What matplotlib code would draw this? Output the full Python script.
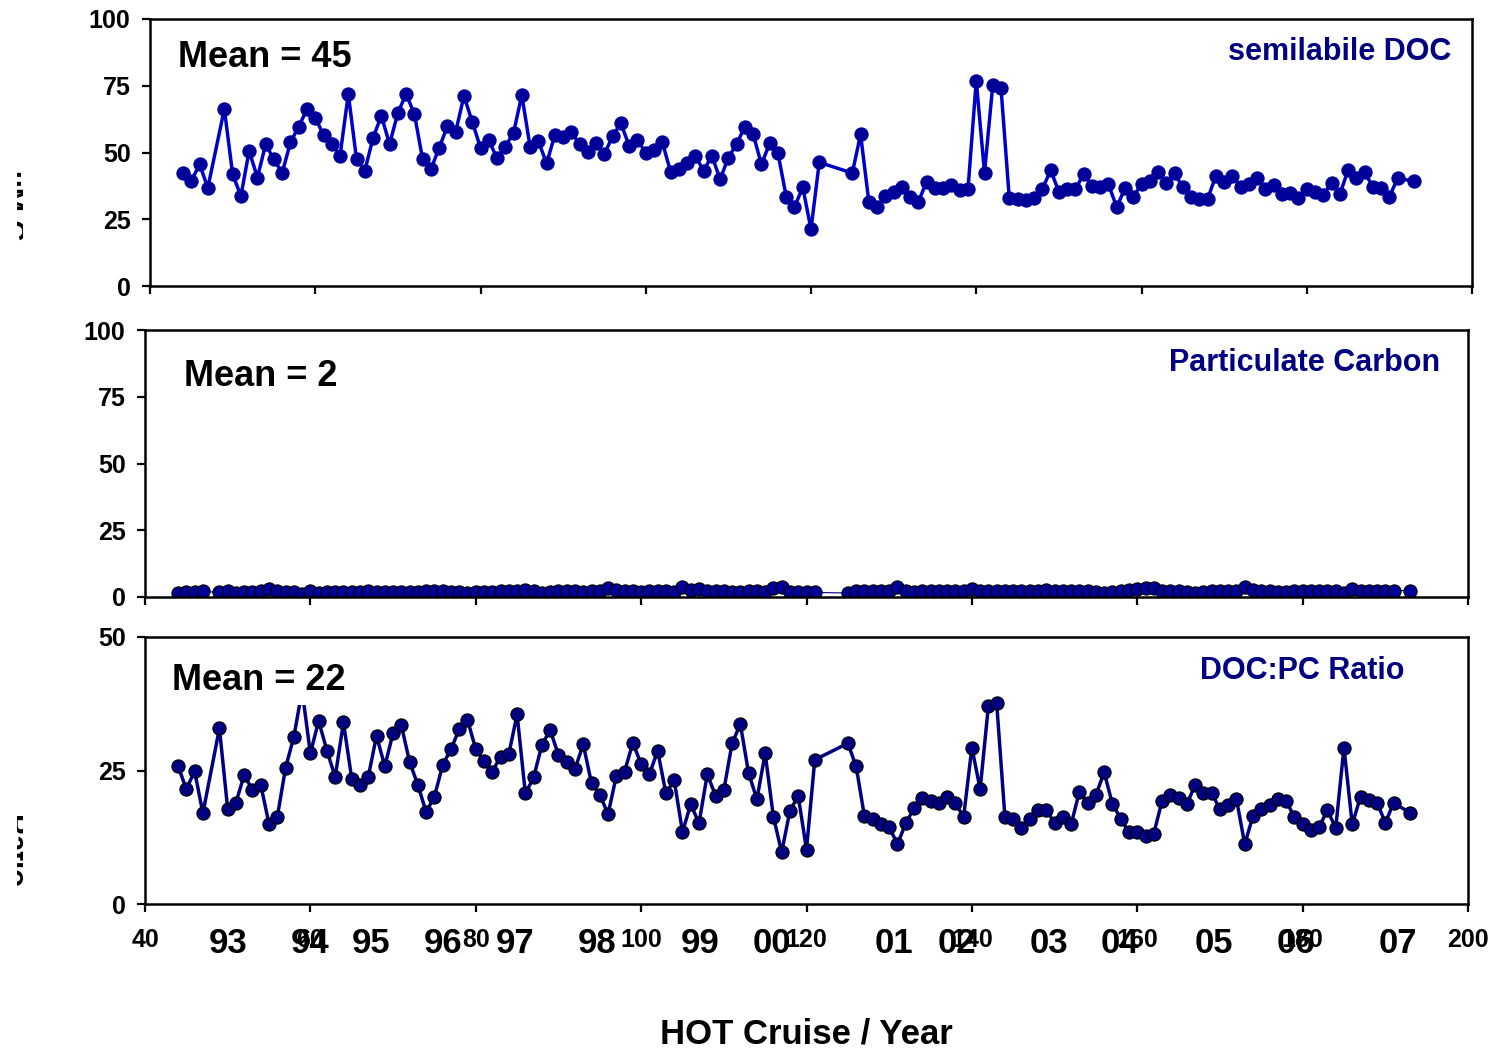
import matplotlib
matplotlib.use("Agg")
import matplotlib.pyplot as plt
from matplotlib.transforms import Bbox

plt.rcParams["font.family"] = ["Liberation Sans", "DejaVu Sans"]
plt.rcParams["font.weight"] = "bold"

# ---- data -------------------------------------------------------------
cruise = [44, 45, 46, 47, 49, 50, 51, 52, 53, 54, 55, 56, 57, 58, 59, 60, 61, 62, 63, 64,
          65, 66, 67, 68, 69, 70, 71, 72, 73, 74, 75, 76, 77, 78, 79, 80, 81, 82, 83, 84,
          85, 86, 87, 88, 89, 90, 91, 92, 93, 94, 95, 96, 97, 98, 99, 100, 101, 102, 103, 104,
          105, 106, 107, 108, 109, 110, 111, 112, 113, 114, 115, 116, 117, 118, 119, 120, 121,
          125, 126, 127, 128, 129, 130, 131, 132, 133, 134, 135, 136, 137, 138, 139, 140, 141,
          142, 143, 144, 145, 146, 147, 148, 149, 150, 151, 152, 153, 154, 155, 156, 157, 158,
          159, 160, 161, 162, 163, 164, 165, 166, 167, 168, 169, 170, 171, 172, 173, 174, 175,
          176, 177, 178, 179, 180, 181, 182, 183, 184, 185, 186, 187, 188, 189, 190, 191, 193]

semilabile_doc = [42.4, 39.3, 45.6, 36.8, 66.3, 41.9, 33.7, 50.6, 40.6, 53.1, 47.4, 42.4, 53.8,
                  59.7, 66.2, 63.0, 56.6, 53.2, 48.8, 71.9, 47.4, 43.2, 55.5, 63.8, 53.1, 64.9,
                  71.9, 64.4, 47.4, 43.7, 51.8, 59.9, 57.8, 71.2, 61.5, 51.8, 54.7, 47.8, 52.2,
                  57.4, 71.5, 52.2, 54.3, 45.9, 56.6, 55.9, 57.6, 53.1, 50.1, 53.4, 49.3, 56.3,
                  60.9, 52.4, 54.7, 49.9, 50.9, 54.0, 42.8, 43.7, 45.9, 48.8, 43.1, 48.8, 40.0,
                  48.1, 53.2, 59.7, 56.8, 45.6, 53.4, 49.7, 33.5, 29.5, 37.0, 21.3, 46.3,
                  42.3, 56.8, 31.6, 29.7, 33.8, 35.1, 37.2, 33.5, 31.6, 39.1, 36.8, 36.8, 37.8,
                  36.0, 36.2, 76.9, 42.4, 75.3, 74.0, 32.8, 32.5, 32.2, 33.1, 36.2, 43.4, 35.3,
                  36.2, 36.2, 41.9, 37.5, 37.2, 38.1, 29.5, 36.6, 33.5, 38.1, 39.3, 42.6, 38.7,
                  42.2, 37.0, 33.5, 32.6, 32.6, 41.3, 38.8, 41.3, 37.0, 38.2, 40.6, 36.2, 37.8,
                  34.3, 34.7, 32.8, 36.3, 35.1, 34.1, 38.7, 34.3, 43.4, 40.6, 42.6, 37.2, 36.8,
                  33.5, 40.3, 39.3]

particulate_carbon = [1.5, 1.7, 1.7, 2.1, 1.7, 2.1, 1.5, 1.7, 1.7, 2.1, 3.0, 2.4, 1.7, 1.7, 1.2,
                      2.1, 1.5, 1.7, 1.7, 2.0, 1.7, 1.7, 2.1, 1.7, 1.7, 1.7, 1.7, 2.0, 1.7, 2.4,
                      2.4, 2.1, 1.7, 1.7, 1.5, 1.7, 1.7, 1.7, 2.1, 2.1, 2.1, 2.6, 2.4, 1.5, 1.7,
                      2.1, 2.1, 2.1, 1.7, 2.4, 2.4, 3.4, 2.6, 2.1, 2.1, 1.7, 2.1, 2.1, 2.1, 1.7,
                      3.6, 2.8, 3.0, 2.1, 2.1, 2.1, 1.7, 1.7, 2.4, 2.4, 2.0, 3.4, 3.8, 1.7, 1.7,
                      2.0, 1.7, 1.5, 2.4, 2.1, 2.1, 2.4, 2.4, 3.6, 2.4, 1.7, 2.1, 2.1, 2.1, 2.1,
                      2.1, 2.4, 3.0, 2.1, 2.1, 2.1, 2.1, 2.4, 2.4, 2.1, 2.4, 2.6, 2.4, 2.4, 2.4,
                      2.1, 2.1, 1.7, 1.5, 1.7, 2.4, 2.6, 3.0, 3.2, 3.4, 2.1, 2.1, 2.1, 1.7, 1.5,
                      1.7, 2.1, 2.1, 2.1, 2.1, 3.6, 2.6, 2.1, 2.1, 1.7, 1.7, 2.1, 2.4, 2.4, 2.1,
                      2.1, 2.1, 1.5, 3.0, 2.4, 2.1, 2.1, 2.1, 2.4, 2.4]

doc_pc_ratio = [25.8, 21.5, 24.9, 17.0, 32.9, 17.8, 19.0, 24.2, 21.3, 22.3, 15.0, 16.3, 25.5,
                31.3, 40.0, 28.2, 34.3, 28.7, 23.8, 34.0, 23.5, 22.2, 23.8, 31.5, 25.8, 32.0,
                33.5, 26.6, 22.3, 17.2, 20.1, 26.0, 29.0, 32.7, 34.5, 29.0, 26.8, 24.8, 27.6,
                28.1, 35.5, 20.7, 23.7, 29.8, 32.6, 27.9, 26.5, 25.3, 29.9, 22.6, 20.5, 16.8,
                24.0, 24.8, 30.2, 26.2, 24.3, 28.7, 20.7, 23.2, 13.5, 18.7, 15.1, 24.3, 20.3,
                21.3, 30.1, 33.7, 24.5, 19.6, 28.2, 16.3, 9.7, 17.5, 20.2, 10.2, 27.0,
                30.1, 25.8, 16.5, 16.0, 14.9, 14.4, 11.2, 15.1, 17.9, 19.9, 19.2, 18.9, 20.0,
                18.9, 16.3, 29.3, 21.5, 37.1, 37.6, 16.2, 16.0, 14.2, 16.0, 17.6, 17.6, 15.2,
                16.2, 14.9, 21.0, 18.9, 20.4, 24.7, 18.7, 16.0, 13.4, 13.5, 12.7, 13.2, 19.3,
                20.4, 19.9, 18.7, 22.3, 20.7, 20.8, 17.7, 18.5, 19.6, 11.2, 16.5, 17.7, 18.5,
                19.6, 19.3, 16.3, 14.9, 13.9, 14.4, 17.6, 14.2, 29.3, 14.9, 20.1, 19.5, 19.0,
                15.2, 18.9, 17.1]

year_labels = ["93", "94", "95", "96", "97", "98", "99", "00",
               "01", "02", "03", "04", "05", "06", "07"]
year_positions = [50.0, 60.0, 67.3, 76.1, 84.8, 94.7, 107.1, 115.8,
                  130.6, 138.2, 149.3, 157.9, 169.3, 179.2, 191.5]

x_ticks = [40, 60, 80, 100, 120, 140, 160, 180, 200]

# ---- figure -------------------------------------------------------------
W, H = 1496, 1051
fig = plt.figure(figsize=(W / 100, H / 100), dpi=100)


def px_axes(left, top, right, bottom):
    return fig.add_axes([left / W, 1 - bottom / H, (right - left) / W, (bottom - top) / H])


def fig_text(x, y, s, **kw):
    return fig.text(x / W, 1 - y / H, s, **kw)


NAVY = "#000080"

ax1 = px_axes(150, 19, 1472, 286)
ax2 = px_axes(145, 330, 1468, 597)
ax3 = px_axes(145, 637, 1468, 904)

for ax in (ax1, ax2, ax3):
    ax.set_xlim(40, 200)
    ax.set_xticks(x_ticks)
    for sp in ax.spines.values():
        sp.set_linewidth(1.8)
    ax.tick_params(axis="both", direction="out", length=6, width=1.6,
                   labelsize=18, colors="black")
    ax.tick_params(axis="y", pad=8)
    ax.tick_params(axis="x", pad=11)

for ax in (ax1, ax2):
    ax.set_ylim(0, 100)
    ax.set_yticks([0, 25, 50, 75, 100])
    ax.set_xticklabels([])

ax3.set_ylim(0, 50)
ax3.set_yticks([0, 25, 50])
ax3.set_xticklabels([str(t) for t in x_ticks])

# series
ax1.plot(cruise, semilabile_doc, "-o", color="#0000CC", lw=2.5, ms=9.5,
         mfc="#000099", mec="#00009E", mew=0.8)
ax2.plot(cruise, particulate_carbon, "-o", color=NAVY, lw=0.8, ms=9.5,
         mfc="#000099", mec="black", mew=0.8)
ax3.plot(cruise, doc_pc_ratio, "-o", color=NAVY, lw=2.5, ms=9.5,
         mfc=NAVY, mec="black", mew=0.8)

# year labels under the cruise axis, placed at the cruise position of each year
year_y = 1 - 953 / H
for lab, pos in zip(year_labels, year_positions):
    x_disp = ax3.transData.transform((pos, 0))[0]
    fig.text(x_disp / W, year_y, lab, fontsize=25, fontweight="bold",
             ha="center", va="baseline")

# annotations
fig_text(178, 67, "Mean = 45", fontsize=26, fontweight="bold", va="baseline")
fig_text(184, 386, "Mean = 2", fontsize=26, fontweight="bold", va="baseline")
fig_text(172, 690, "Mean = 22", fontsize=26, fontweight="bold", va="baseline",
         bbox=dict(facecolor="white", edgecolor="none", pad=5))

fig_text(1451, 60, "semilabile DOC", fontsize=22, fontweight="bold",
         color=NAVY, ha="right", va="baseline")
fig_text(1440, 371, "Particulate Carbon", fontsize=22, fontweight="bold",
         color=NAVY, ha="right", va="baseline")
fig_text(1405, 679, "DOC:PC Ratio", fontsize=22, fontweight="bold",
         color=NAVY, ha="right", va="baseline")

fig_text(806, 1043, "HOT Cruise / Year", fontsize=25, fontweight="bold",
         ha="center", va="baseline")

# axis titles on the left margin, only their outer edge shows
for label, ytop in (("\u00b5M C", 170), ("Ratio", 815)):
    t = fig_text(26, ytop, label, fontsize=21, fontweight="bold",
                 rotation=270, ha="right", va="top")
    t.set_clip_box(Bbox.from_extents(16.5, H - ytop - 80, 22.5, H - ytop + 5))
    t.set_clip_on(True)

fig.savefig("out.png", dpi=100)
